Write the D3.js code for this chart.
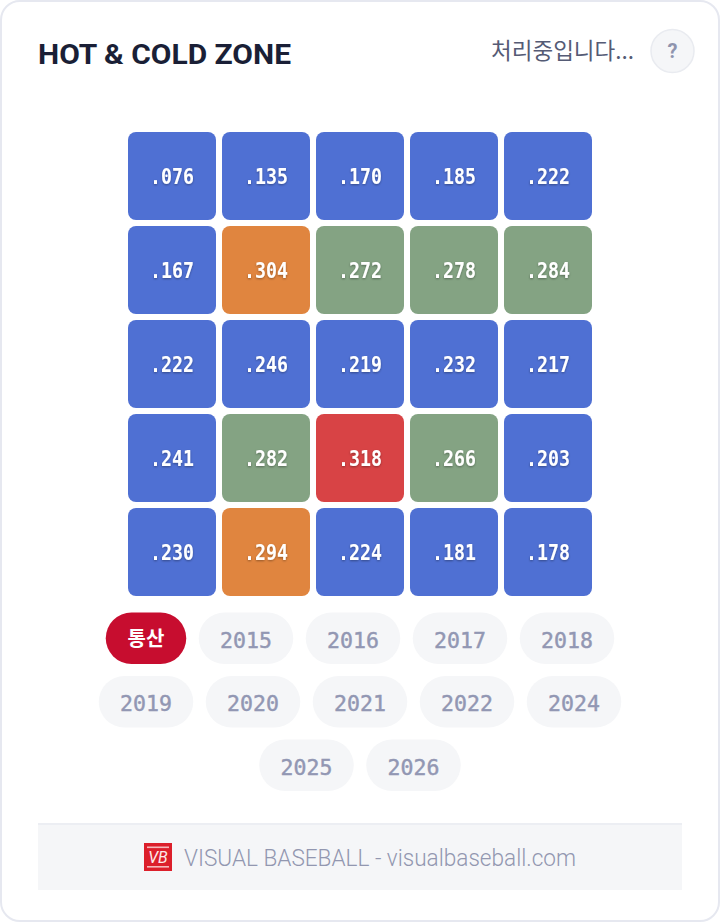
<!DOCTYPE html>
<html><head><meta charset="utf-8">
<script src="https://cdn.jsdelivr.net/npm/d3@7/dist/d3.min.js"></script>
<style>html,body{margin:0;padding:0;background:#fff}svg{display:block}</style>
</head><body>
<svg id="c" width="722" height="924"></svg>
<script>
const rowsIdx=[0,1,2,3,4], colsIdx=[0,1,2,3,4];
const row0=[".076",".135",".170",".185",".222"];
const row1=[".167",".304",".272",".278",".284"];
const row2=[".222",".246",".219",".232",".217"];
const row3=[".241",".282",".318",".266",".203"];
const row4=[".230",".294",".224",".181",".178"];
const zoneRows=[row0,row1,row2,row3,row4];
const thresholds=[.26,.29,.31];
const zoneColors=["#4f70d3","#84a383","#e0853f","#d84345"];
const pillRow0=["통산","2015","2016","2017","2018"];
const pillRow1=["2019","2020","2021","2022","2024"];
const pillRow2=["2025","2026"];
const pillRows=[pillRow0,pillRow1,pillRow2];
const titleText="HOT & COLD ZONE", statusText="처리중입니다...", helpText="?", footerText="VISUAL BASEBALL - visualbaseball.com";

const SANS="Roboto,'Noto Sans CJK KR',sans-serif", MONO="'DejaVu Sans Mono','Noto Sans CJK KR',monospace", KR="'Noto Sans CJK KR',sans-serif";
const svg=d3.select("#c");
svg.append("rect").attr("x",1).attr("y",1).attr("width",718).attr("height",920).attr("rx",19).attr("fill","#fff").attr("stroke","#e6e8f0").attr("stroke-width",2);
svg.append("text").attr("x",38).attr("y",64).text(titleText).attr("font-family",SANS).attr("font-weight",700).attr("font-size",28).attr("fill","#1a1f36").attr("textLength",253).attr("lengthAdjust","spacingAndGlyphs");
svg.append("text").attr("x",634).attr("y",58.5).attr("text-anchor","end").text(statusText).attr("font-family",KR).attr("font-size",22.5).attr("fill","#555b75");
svg.append("circle").attr("cx",672.5).attr("cy",51).attr("r",21.5).attr("fill","#f5f6f8").attr("stroke","#e9ebf0").attr("stroke-width",1.5);
svg.append("text").attr("x",672.5).attr("y",58).attr("text-anchor","middle").text(helpText).attr("font-family",SANS).attr("font-weight",700).attr("font-size",20).attr("fill","#8f94ae");

const defs=svg.append("defs");
const f=defs.append("filter").attr("id","ts").attr("x","-20%").attr("y","-20%").attr("width","140%").attr("height","150%");
f.append("feDropShadow").attr("dx",0).attr("dy",1).attr("stdDeviation",1.2).attr("flood-color","#000").attr("flood-opacity",.35);

const x=d3.scaleBand().domain(colsIdx).range([128,592]).paddingInner(6/94).paddingOuter(0);
const y=d3.scaleBand().domain(rowsIdx).range([132,596]).paddingInner(6/94).paddingOuter(0);
const color=d3.scaleThreshold().domain(thresholds).range(zoneColors);
const cells=svg.append("g").selectAll("g").data(zoneRows.flatMap((r,i)=>r.map((v,j)=>({i,j,v})))).join("g");
cells.append("rect").attr("x",d=>x(d.j)).attr("y",d=>y(d.i)).attr("width",x.bandwidth()).attr("height",y.bandwidth()).attr("rx",8).attr("fill",d=>color(+d.v));
cells.append("text").attr("x",d=>x(d.j)+x.bandwidth()/2).attr("y",d=>y(d.i)+y.bandwidth()/2+8).attr("text-anchor","middle").text(d=>d.v).attr("font-family",MONO).attr("font-weight",700).attr("font-size",20.5).attr("fill","#fff").attr("filter","url(#ts)").attr("textLength",44).attr("lengthAdjust","spacingAndGlyphs");

const pillY=d3.scaleBand().domain([0,1,2]).range([612.5,791]).paddingInner(12/63.5).paddingOuter(0);
const pw=t=>t==="통산"?80.5:94.5, gap=12.5;
pillRows.forEach((r,ri)=>{
  const total=d3.sum(r,pw)+gap*(r.length-1);
  let px=360-total/2;
  r.forEach((t,k)=>{
    const w=pw(t),on=t==="통산",h=pillY.bandwidth(),py=pillY(ri);
    svg.append("rect").attr("x",px).attr("y",py).attr("width",w).attr("height",h).attr("rx",h/2).attr("fill",on?"#c70d2f":"#f5f6f8");
    const tx=svg.append("text").attr("x",px+w/2).attr("y",py+h/2+(on?8:9.5)).attr("text-anchor","middle").text(t).attr("font-family",on?KR:MONO).attr("font-weight",on?700:400).attr("font-size",on?20:21.5).attr("fill",on?"#fff":"#9297b3");
    if(!on) tx.attr("stroke","#9297b3").attr("stroke-width",.45);
    px+=w+gap;
  });
});

svg.append("rect").attr("x",38).attr("y",823).attr("width",644).attr("height",67).attr("fill","#f5f6f8");
svg.append("rect").attr("x",38).attr("y",823).attr("width",644).attr("height",2).attr("fill","#eceef3");
const lg=svg.append("g").attr("transform","translate(144,843)");
lg.append("rect").attr("width",28).attr("height",28).attr("fill","#dc1f2b");
lg.append("rect").attr("x",3).attr("y",3.5).attr("width",22).attr("height",1.6).attr("fill","#f6b8bb");
lg.append("rect").attr("x",3).attr("y",23).attr("width",22).attr("height",1.6).attr("fill","#f6b8bb");
lg.append("text").attr("x",14).attr("y",20).attr("text-anchor","middle").text("VB").attr("font-family",SANS).attr("font-style","italic").attr("font-weight",400).attr("font-size",16).attr("fill","#fdeaea");
svg.append("text").attr("x",184).attr("y",866).text(footerText).attr("font-family",SANS).attr("font-weight",300).attr("font-size",23).attr("fill","#9297b0").attr("textLength",392).attr("lengthAdjust","spacingAndGlyphs");
</script>
</body></html>
